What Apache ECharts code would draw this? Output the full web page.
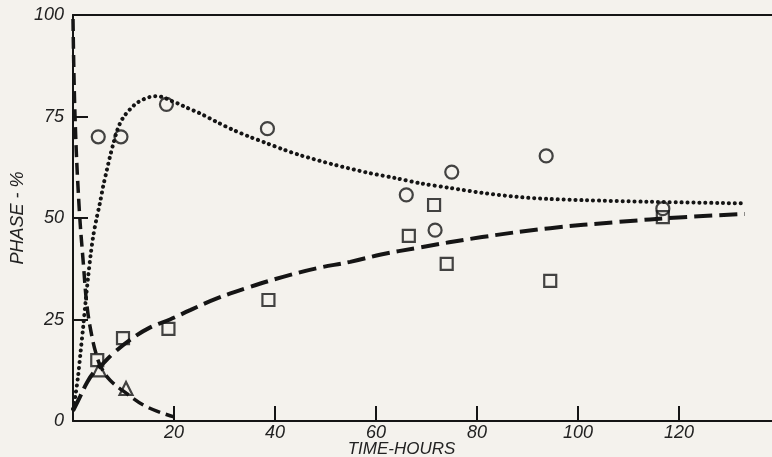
<!DOCTYPE html>
<html>
<head>
<meta charset="utf-8">
<script src="https://cdn.jsdelivr.net/npm/echarts@6/dist/echarts.min.js"></script>
<style>
html,body{margin:0;padding:0;background:#f4f2ed;}
#chart{width:772px;height:457px;}
</style>
</head>
<body>
<div id="chart"></div>
<script>
// Curve through circles (dotted)
const dottedCurve = [[0,3],[0.5,6.5],[1,11],[1.5,17],[2,23],[2.5,29.5],[3,35.5],[3.5,41],[4,45.5],[4.6,49.5],[5.3,53.5],[6,58],[6.7,61.8],[7.3,65],[8,68.4],[8.6,71],[9.3,73.3],[10.2,75.2],[11.3,76.8],[12.5,78.2],[13.9,79.2],[15.2,79.8],[16.6,80],[17.9,79.7],[19.2,79],[20.8,78.2],[22.5,77.2],[25.1,75.8],[28.4,73.7],[31.7,71.7],[35,70],[38.4,68.4],[41.6,66.9],[44.9,65.5],[51.5,63.2],[58.2,61.2],[64,59.8],[69,58.5],[74.7,57.4],[81,56.2],[87.9,55.2],[94,54.7],[101,54.4],[114,54],[133,53.6]];
// Curve through squares (long dash)
const longDashCurve = [[0,2.5],[1.4,6],[2.7,9.3],[4,11.8],[6,14.2],[8,16.7],[11.3,20],[15.2,23],[19.2,25],[23.2,27.3],[28.5,30.2],[35,33],[41.6,35.5],[48.2,37.6],[54.9,39.2],[61,41],[68,42.6],[81,45.3],[94.5,47.5],[107.7,49],[120.8,50.2],[133,51]];
// Curve through triangles (short dash)
const shortDashCurve = [[0,99],[0.4,75],[1.2,53],[2.1,38],[2.8,28],[3.8,20.5],[4.7,16],[5.5,13.4],[7.3,10.1],[10.6,6.8],[14.6,3.5],[20,1]];
// Observed points
const circles = [[5,70],[9.5,70],[18.5,78],[38.5,72],[66,55.7],[75,61.3],[71.7,47],[93.7,65.3],[116.8,52.3]];
const squares = [[4.8,15],[9.9,20.4],[18.9,22.7],[38.7,29.8],[66.5,45.6],[71.5,53.2],[74,38.7],[94.5,34.5],[116.8,50.2]];
const triangles = [[5.2,12.6],[10.5,8]];
const xTicks = [20,40,60,80,100,120];
const yTicks = [25,50,75];
const yLabels = [0,25,50,75,100];

const ink = '#151515';
const labelFont = {fontFamily:'Liberation Sans', fontStyle:'italic', fontSize:18, color:'#222'};
const chart = echarts.init(document.getElementById('chart'));
const openMarker = {color:'rgba(0,0,0,0)', borderColor:ink, borderWidth:2.2};
chart.setOption({
  backgroundColor:'#f4f2ed',
  animation:false,
  grid:{left:73, top:15, width:707, height:406, containLabel:false, outerBoundsMode:'none'},
  xAxis:[{
    type:'value', min:0, max:140, interval:20,
    name:'TIME-HOURS', nameLocation:'middle', nameGap:20, nameMoveOverlap:false,
    nameTextStyle:Object.assign({padding:[0,0,0,-50]}, labelFont, {fontSize:17}),
    axisLine:{lineStyle:{color:ink, width:2}},
    axisTick:{inside:true, length:15, customValues:xTicks, lineStyle:{color:ink, width:2}},
    axisLabel:Object.assign({margin:3, customValues:xTicks, formatter:v => xTicks.includes(v) ? String(v) : ''}, labelFont),
    splitLine:{show:false}
  },{
    type:'value', position:'top', min:0, max:140,
    axisLine:{show:true, lineStyle:{color:ink, width:2}},
    axisTick:{show:false}, axisLabel:{show:false}, splitLine:{show:false}
  }],
  yAxis:{
    type:'value', min:0, max:100, interval:25,
    name:'PHASE - %', nameLocation:'middle', nameGap:46, nameRotate:90, nameMoveOverlap:false,
    nameTextStyle:Object.assign({}, labelFont),
    axisLine:{lineStyle:{color:ink, width:2}},
    axisTick:{inside:true, length:15, customValues:yTicks, lineStyle:{color:ink, width:2}},
    axisLabel:Object.assign({margin:9, customValues:yLabels, formatter:v => yLabels.includes(v) ? String(v) : ''}, labelFont),
    splitLine:{show:false}
  },
  series:[
    {type:'line', data:dottedCurve, smooth:0.3, showSymbol:false, z:2,
     lineStyle:{color:ink, width:4, type:[0.1,5.8], cap:'round'}},
    {type:'line', data:longDashCurve, smooth:0.4, showSymbol:false, z:2,
     lineStyle:{color:ink, width:4, type:[18,7]}},
    {type:'line', data:shortDashCurve, smooth:0.4, showSymbol:false, z:2,
     lineStyle:{color:ink, width:3.5, type:[12,6]}},
    {type:'scatter', data:circles, symbol:'circle', symbolSize:13, itemStyle:openMarker, z:5},
    {type:'scatter', data:squares, symbol:'rect', symbolSize:12, itemStyle:openMarker, z:5},
    {type:'scatter', data:triangles, symbol:'triangle', symbolSize:13, itemStyle:openMarker, z:5}
  ]
});
</script>
</body>
</html>
